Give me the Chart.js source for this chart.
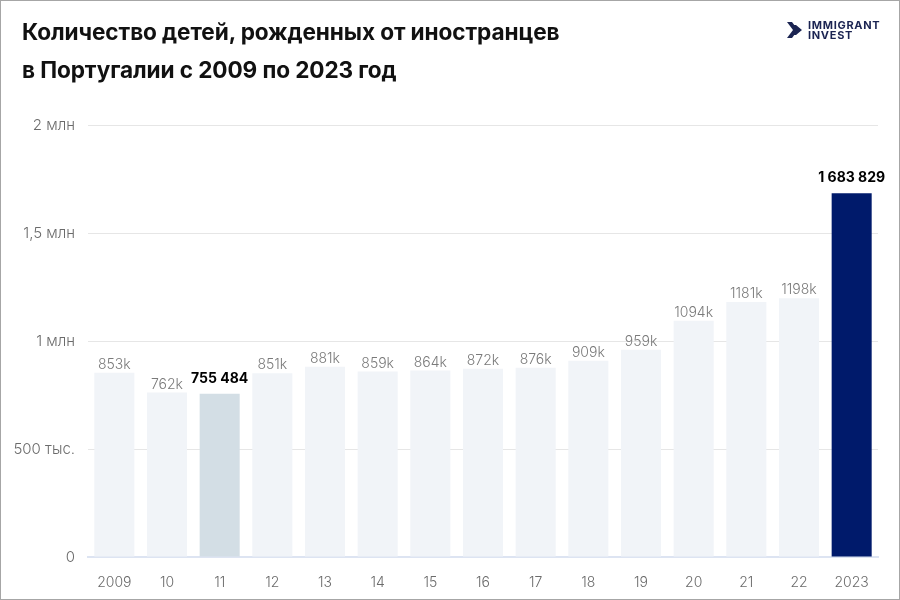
<!DOCTYPE html>
<html><head><meta charset="utf-8">
<script src="https://cdn.jsdelivr.net/npm/chart.js@4.4.1/dist/chart.umd.min.js"></script>
<style>
html,body{margin:0;padding:0;background:#fff;}
#wrap{position:relative;width:900px;height:600px;box-sizing:border-box;border:1px solid #a6a6a6;overflow:hidden;font-family:Inter,"Noto Sans",sans-serif;}
#title{position:absolute;left:21px;top:12px;font-weight:700;font-size:22.6px;line-height:38px;color:#111;letter-spacing:-0.1px;}
#logo{position:absolute;left:786px;top:19px;display:flex;align-items:center;}
#logo .t{font-weight:700;font-size:11px;line-height:10px;color:#1b2452;margin-left:6px;letter-spacing:0.7px;}
#cv{position:absolute;left:0;top:0;}
</style></head>
<body>
<div id="wrap">
<canvas id="cv" width="898" height="598"></canvas>
<div id="title">Количество детей, рожденных от иностранцев<br>в Португалии с 2009 по 2023 год</div>
<div id="logo"><svg width="15" height="16" viewBox="0 0 15 16"><path d="M0 0 L5 0 L11 8 L5 16 L0 16 L6 8 Z" fill="#1b2452"/><path d="M6 3 L9 3 L15 8 L9 13 L6 13 L10 8 Z" fill="#1b2452"/></svg><div class="t">IMMIGRANT<br>INVEST</div></div>
</div>
<script>
const categories = ["2009","10","11","12","13","14","15","16","17","18","19","20","21","22","2023"];
const births = [853000,762000,755484,851000,881000,859000,864000,872000,876000,909000,959000,1094000,1181000,1198000,1683829];
const valueLabels = ["853k","762k","755 484","851k","881k","859k","864k","872k","876k","909k","959k","1094k","1181k","1198k","1 683 829"];
const highlighted = [false,false,true,false,false,false,false,false,false,false,false,false,false,false,true];
const barColors = ["#f1f4f8","#f1f4f8","#d3dee5","#f1f4f8","#f1f4f8","#f1f4f8","#f1f4f8","#f1f4f8","#f1f4f8","#f1f4f8","#f1f4f8","#f1f4f8","#f1f4f8","#f1f4f8","#001a6b"];
const yTickLabels = {0:"0",500000:"500 тыс.",1000000:"1 млн",1500000:"1,5 млн",2000000:"2 млн"};

const labelPlugin = {
  id:'vlabels',
  afterDatasetsDraw(chart){
    const ctx = chart.ctx;
    const meta = chart.getDatasetMeta(0);
    ctx.save();
    ctx.textAlign='center';
    ctx.textBaseline='bottom';
    meta.data.forEach((bar,i)=>{
      if(highlighted[i]){
        ctx.font='700 14px Inter, "Noto Sans", sans-serif';
        ctx.fillStyle='#000';
        ctx.fillText(valueLabels[i], bar.x, bar.y-8);
      } else {
        ctx.font='300 14px Inter, "Noto Sans", sans-serif';
        ctx.fillStyle='#7a7a7a';
        ctx.fillText(valueLabels[i], bar.x, bar.y-1);
      }
    });
    ctx.restore();
  }
};

new Chart(document.getElementById('cv'),{
  type:'bar',
  data:{labels:categories,datasets:[{data:births,backgroundColor:barColors,barPercentage:0.76,categoryPercentage:1}]},
  options:{
    responsive:false,animation:false,
    layout:{padding:{left:0,right:21,top:124,bottom:0}},
    plugins:{legend:{display:false},tooltip:{enabled:false}},
    scales:{
      y:{min:0,max:2000000,
        ticks:{stepSize:500000,padding:13,color:'#6b6b6b',font:{family:'Inter, "Noto Sans", sans-serif',size:15,weight:300},
          callback:(v)=>yTickLabels[v]!==undefined?yTickLabels[v]:''},
        grid:{color:(c)=>c.index===0?'#dde4f2':'#e6e6e6',drawTicks:false,lineWidth:1},
        border:{display:false},
        afterFit(s){s.width=87;}
      },
      x:{
        ticks:{padding:9,color:'#6b6b6b',font:{family:'Inter, "Noto Sans", sans-serif',size:14,weight:300}},
        grid:{display:false},
        border:{display:true,color:'#dde4f2',width:2},
        afterFit(s){s.height=42;}
      }
    }
  },
  plugins:[labelPlugin]
});
</script>
</body></html>
